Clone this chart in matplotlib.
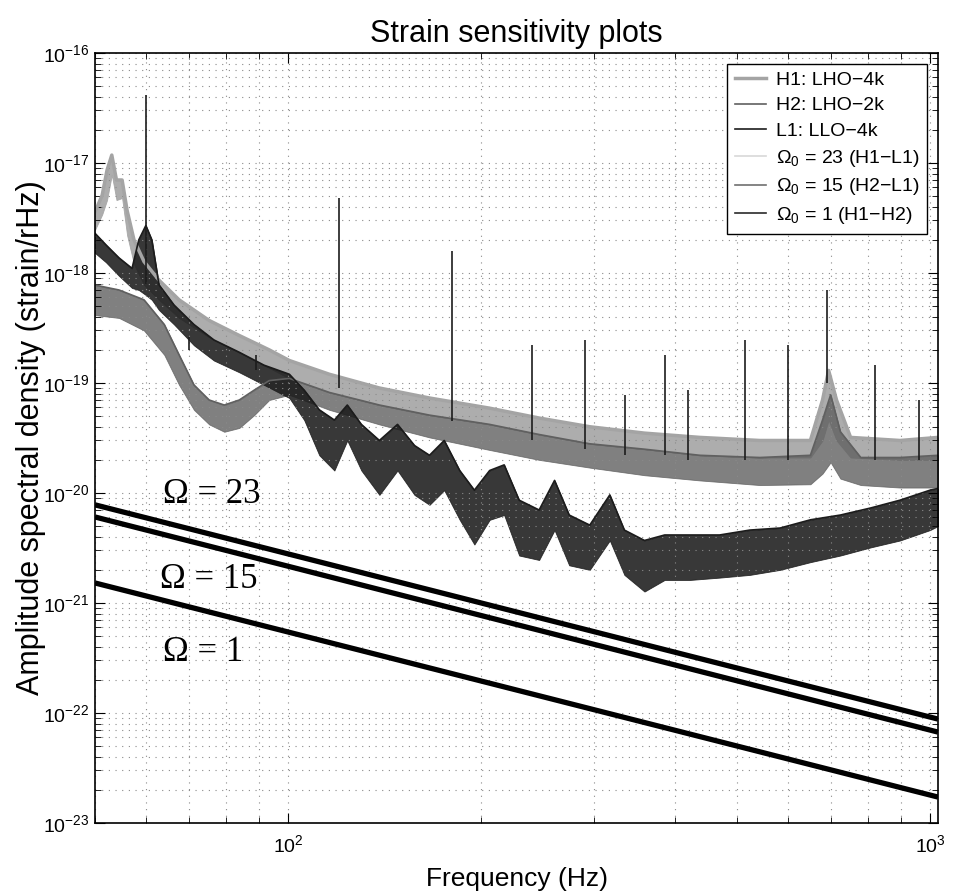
""" Strain sensitivity plot """

import matplotlib as mpl
import matplotlib.pyplot as plt

# plots design

mpl.rcParams['font.family'] = 'Liberation Sans'
mpl.rcParams['mathtext.fontset'] = 'custom'
mpl.rcParams['mathtext.rm'] = 'Liberation Sans'
mpl.rcParams['mathtext.it'] = 'Liberation Sans:italic'
mpl.rcParams['mathtext.sf'] = 'Liberation Sans'

# data: noise band edges in strain/rHz

h1_freq = [49.8, 51.3, 52.2, 53.1, 54.0, 55.1, 56.1, 57.5, 59.6, 62.9, 67.6, 75.3, 83.9, 93.4, 100.4, 115.9,
           138.7, 166, 206, 246, 295, 359, 438, 543, 651, 680, 695, 715, 752, 898, 1029]
h1_high = [3.4e-18, 5.1e-18, 8.6e-18, 1.18e-17, 7e-18, 7e-18, 3.7e-18, 2e-18, 1.27e-18, 8.6e-19, 5.7e-19, 3.7e-19, 2.7e-19, 2e-19, 1.6e-19, 1.2e-19,
           9e-20, 7.3e-20, 5.9e-20, 4.8e-20, 4e-20, 3.5e-20, 3.2e-20, 3e-20, 3e-20, 7e-20, 1.3e-19, 7e-20, 3.2e-20, 3e-20, 3.2e-20]
h1_low = [2.35e-18, 3.4e-18, 4.6e-18, 7.8e-18, 4.6e-18, 4.8e-18, 2.2e-18, 1.2e-18, 7.8e-19, 5.7e-19, 3.9e-19, 2.6e-19, 1.9e-19, 1.37e-19, 1.1e-19, 8.2e-20,
          6.3e-20, 5.1e-20, 4.2e-20, 3.4e-20, 2.8e-20, 2.5e-20, 2.2e-20, 2.1e-20, 2.1e-20, 3e-20, 4.6e-20, 3e-20, 2.1e-20, 2e-20, 2e-20]

h2_freq = [49.8, 54.5, 59.6, 64.1, 67.6, 71.3, 75.3, 79.5, 83.9, 88.5, 93.4, 100.4, 115.9, 138.7, 166, 206,
           246, 295, 359, 438, 543, 651, 680, 700, 725, 780, 898, 1029]
h2_high = [7.8e-19, 7e-19, 5.7e-19, 3.4e-19, 1.8e-19, 9.6e-20, 7e-20, 6.3e-20, 7e-20, 8.6e-20, 1.05e-19, 1.1e-19, 8.2e-20, 6.3e-20, 5.1e-20, 4.2e-20,
           3.4e-20, 2.8e-20, 2.5e-20, 2.2e-20, 2.1e-20, 2.2e-20, 4.6e-20, 7.8e-20, 3.6e-20, 2.1e-20, 2.1e-20, 2.2e-20]
h2_low = [4.15e-19, 3.9e-19, 3e-19, 1.8e-19, 9.6e-20, 5.7e-20, 4.2e-20, 3.6e-20, 3.9e-20, 5.1e-20, 7e-20, 7.8e-20, 5.7e-20, 4.2e-20, 3.2e-20, 2.46e-20,
          2e-20, 1.7e-20, 1.45e-20, 1.3e-20, 1.18e-20, 1.2e-20, 1.5e-20, 1.9e-20, 1.35e-20, 1.18e-20, 1.12e-20, 1.12e-20]

l1_freq = [49.8, 52.0, 54.5, 57.1, 58.5, 60.0, 61.3, 62.9, 66.4, 71.3, 76.6, 83.9, 91.7, 100.4, 105.9, 111.8,
           118, 123.6, 130, 138.7, 148, 157.3, 166, 175, 185, 195, 206, 217, 229, 246, 260, 274,
           295, 317, 334, 359, 386, 423, 470, 524, 584, 651, 725, 808, 898, 1000, 1029]
l1_high = [2.35e-18, 1.8e-18, 1.37e-18, 1.1e-18, 2e-18, 2.7e-18, 2e-18, 7.8e-19, 5.1e-19, 3.4e-19, 2.46e-19, 1.9e-19, 1.45e-19, 1.2e-19, 8.6e-20, 5.7e-20,
           4.6e-20, 6.3e-20, 4.2e-20, 3e-20, 4.2e-20, 2.7e-20, 2.2e-20, 3e-20, 1.6e-20, 1.06e-20, 1.6e-20, 1.8e-20, 8.6e-21, 7e-21, 1.3e-20, 6.3e-21,
           5.1e-21, 9.6e-21, 4.6e-21, 3.7e-21, 4.15e-21, 4.15e-21, 4.15e-21, 4.6e-21, 4.8e-21, 5.7e-21, 6.3e-21, 7.3e-21, 8.6e-21, 1.06e-20, 1.1e-20]
l1_low = [1.55e-18, 1.25e-18, 9.4e-19, 7.3e-19, 7e-19, 6.3e-19, 5.7e-19, 4.6e-19, 3.4e-19, 2.2e-19, 1.6e-19, 1.25e-19, 9.6e-20, 7.3e-20, 4.6e-20, 2.2e-20,
          1.6e-20, 3e-20, 1.6e-20, 9.6e-21, 1.6e-20, 9.6e-21, 7.8e-21, 1.06e-20, 5.7e-21, 3.4e-21, 5.7e-21, 6.3e-21, 2.7e-21, 2.46e-21, 4.6e-21, 2.2e-21,
          2e-21, 3.7e-21, 1.8e-21, 1.27e-21, 1.62e-21, 1.62e-21, 1.7e-21, 1.8e-21, 2e-21, 2.35e-21, 2.7e-21, 3.2e-21, 3.7e-21, 4.6e-21, 5e-21]

# narrow lines: frequency, base and top of each spike
spike_freq = [60, 70, 89, 120, 180, 240, 290, 335, 386, 420, 515, 600, 690, 820, 960]
spike_base = [8e-19, 2e-19, 1.3e-19, 9e-20, 4.5e-20, 3e-20, 2.5e-20, 2.2e-20, 2.2e-20, 2e-20, 2e-20, 2e-20, 1e-19, 2e-20, 2e-20]
spike_top = [4.15e-17, 2.6e-19, 1.8e-19, 4.8e-18, 1.6e-18, 2.2e-19, 2.46e-19, 7.8e-20, 1.8e-19, 8.6e-20, 2.46e-19, 2.2e-19, 7e-19, 1.45e-19, 7e-20]

# stochastic background (Omega_0) lines
omega_freq = [50, 1029]
omega_23 = [7.8e-21, 8.8e-23]
omega_15 = [6.05e-21, 6.7e-23]
omega_1 = [1.52e-21, 1.72e-23]

# figure design

fig = plt.figure(figsize=(9.55, 8.96), dpi=100)
ax = fig.add_axes([0.0995, 0.0815, 0.8827, 0.8594])
ax.set_xscale('log')
ax.set_yscale('log')
ax.set_xticks([1e2, 1e3])
ax.set_yticks([1e-23, 1e-22, 1e-21, 1e-20, 1e-19, 1e-18, 1e-17, 1e-16])
ax.set_xlim(50, 1029)
ax.set_ylim(1e-23, 1e-16)

for axis in (ax.xaxis, ax.yaxis):
    axis.set_tick_params(which='major', size=7, width=0.8, direction='in')
    axis.set_tick_params(which='minor', size=4, width=0.6, direction='in')
ax.tick_params(which='both', top=True, right=True, labelsize=14)
ax.tick_params(axis='x', which='major', pad=8)
ax.tick_params(axis='y', which='major', pad=4)
ax.grid(True, which='both', color='#8a8a8a', linestyle=(0, (1, 5)), linewidth=0.8)
for s in ax.spines.values():
    s.set_linewidth(1.2)

ax.set_title('Strain sensitivity plots', fontsize=22, pad=8)
ax.set_xlabel('Frequency (Hz)', fontsize=19, labelpad=8)
ax.set_ylabel('Amplitude spectral density (strain/rHz)', fontsize=22, labelpad=-2)

# spectra

c_h1, c_h2, c_l1 = '#a4a4a4', '#606060', '#1c1c1c'
ax.fill_between(h1_freq, h1_low, h1_high, color=c_h1, lw=0.6, alpha=0.9)
ax.fill_between(h2_freq, h2_low, h2_high, color=c_h2, lw=0.6, alpha=0.8)
ax.fill_between(l1_freq, l1_low, l1_high, color=c_l1, lw=0.6, alpha=0.88)
ax.plot(h1_freq, h1_high, color=c_h1, lw=2.5, label='H1: LHO\u22124k')
ax.plot(h2_freq, h2_high, color=c_h2, lw=1.2, label='H2: LHO\u22122k')
ax.plot(l1_freq, l1_high, color=c_l1, lw=1.2, label='L1: LLO\u22124k')
ax.vlines(spike_freq, spike_base, spike_top, color=c_l1, lw=1.2)

# stochastic background limits

ax.plot(omega_freq, omega_23, color='#d8d8d8', lw=1.2, label='$\\Omega_0$ = 23 (H1\u2212L1)')
ax.plot(omega_freq, omega_15, color='#707070', lw=1.2, label='$\\Omega_0$ = 15 (H2\u2212L1)')
ax.plot(omega_freq, omega_1, color='#2a2a2a', lw=1.2, label='$\\Omega_0$ = 1 (H1\u2212H2)')
for y in (omega_23, omega_15, omega_1):
    ax.plot(omega_freq, y, color='black', lw=3.8, solid_capstyle='butt')

serif = {'family': 'Liberation Serif', 'size': 25}
ax.text(0.0807, 0.426, '\u03a9 = 23', transform=ax.transAxes, fontdict=serif, va='center')
ax.text(0.077, 0.3156, '\u03a9 = 15', transform=ax.transAxes, fontdict=serif, va='center')
ax.text(0.0807, 0.221, '\u03a9 = 1', transform=ax.transAxes, fontdict=serif, va='center')

leg = ax.legend(loc='upper right', fontsize=14, fancybox=False, framealpha=1,
                edgecolor='black', handlelength=1.6, handletextpad=0.5,
                labelspacing=0.4, borderaxespad=0.55, borderpad=0.4)
leg.get_frame().set_linewidth(1.0)

plt.savefig('out.png', dpi=100)
